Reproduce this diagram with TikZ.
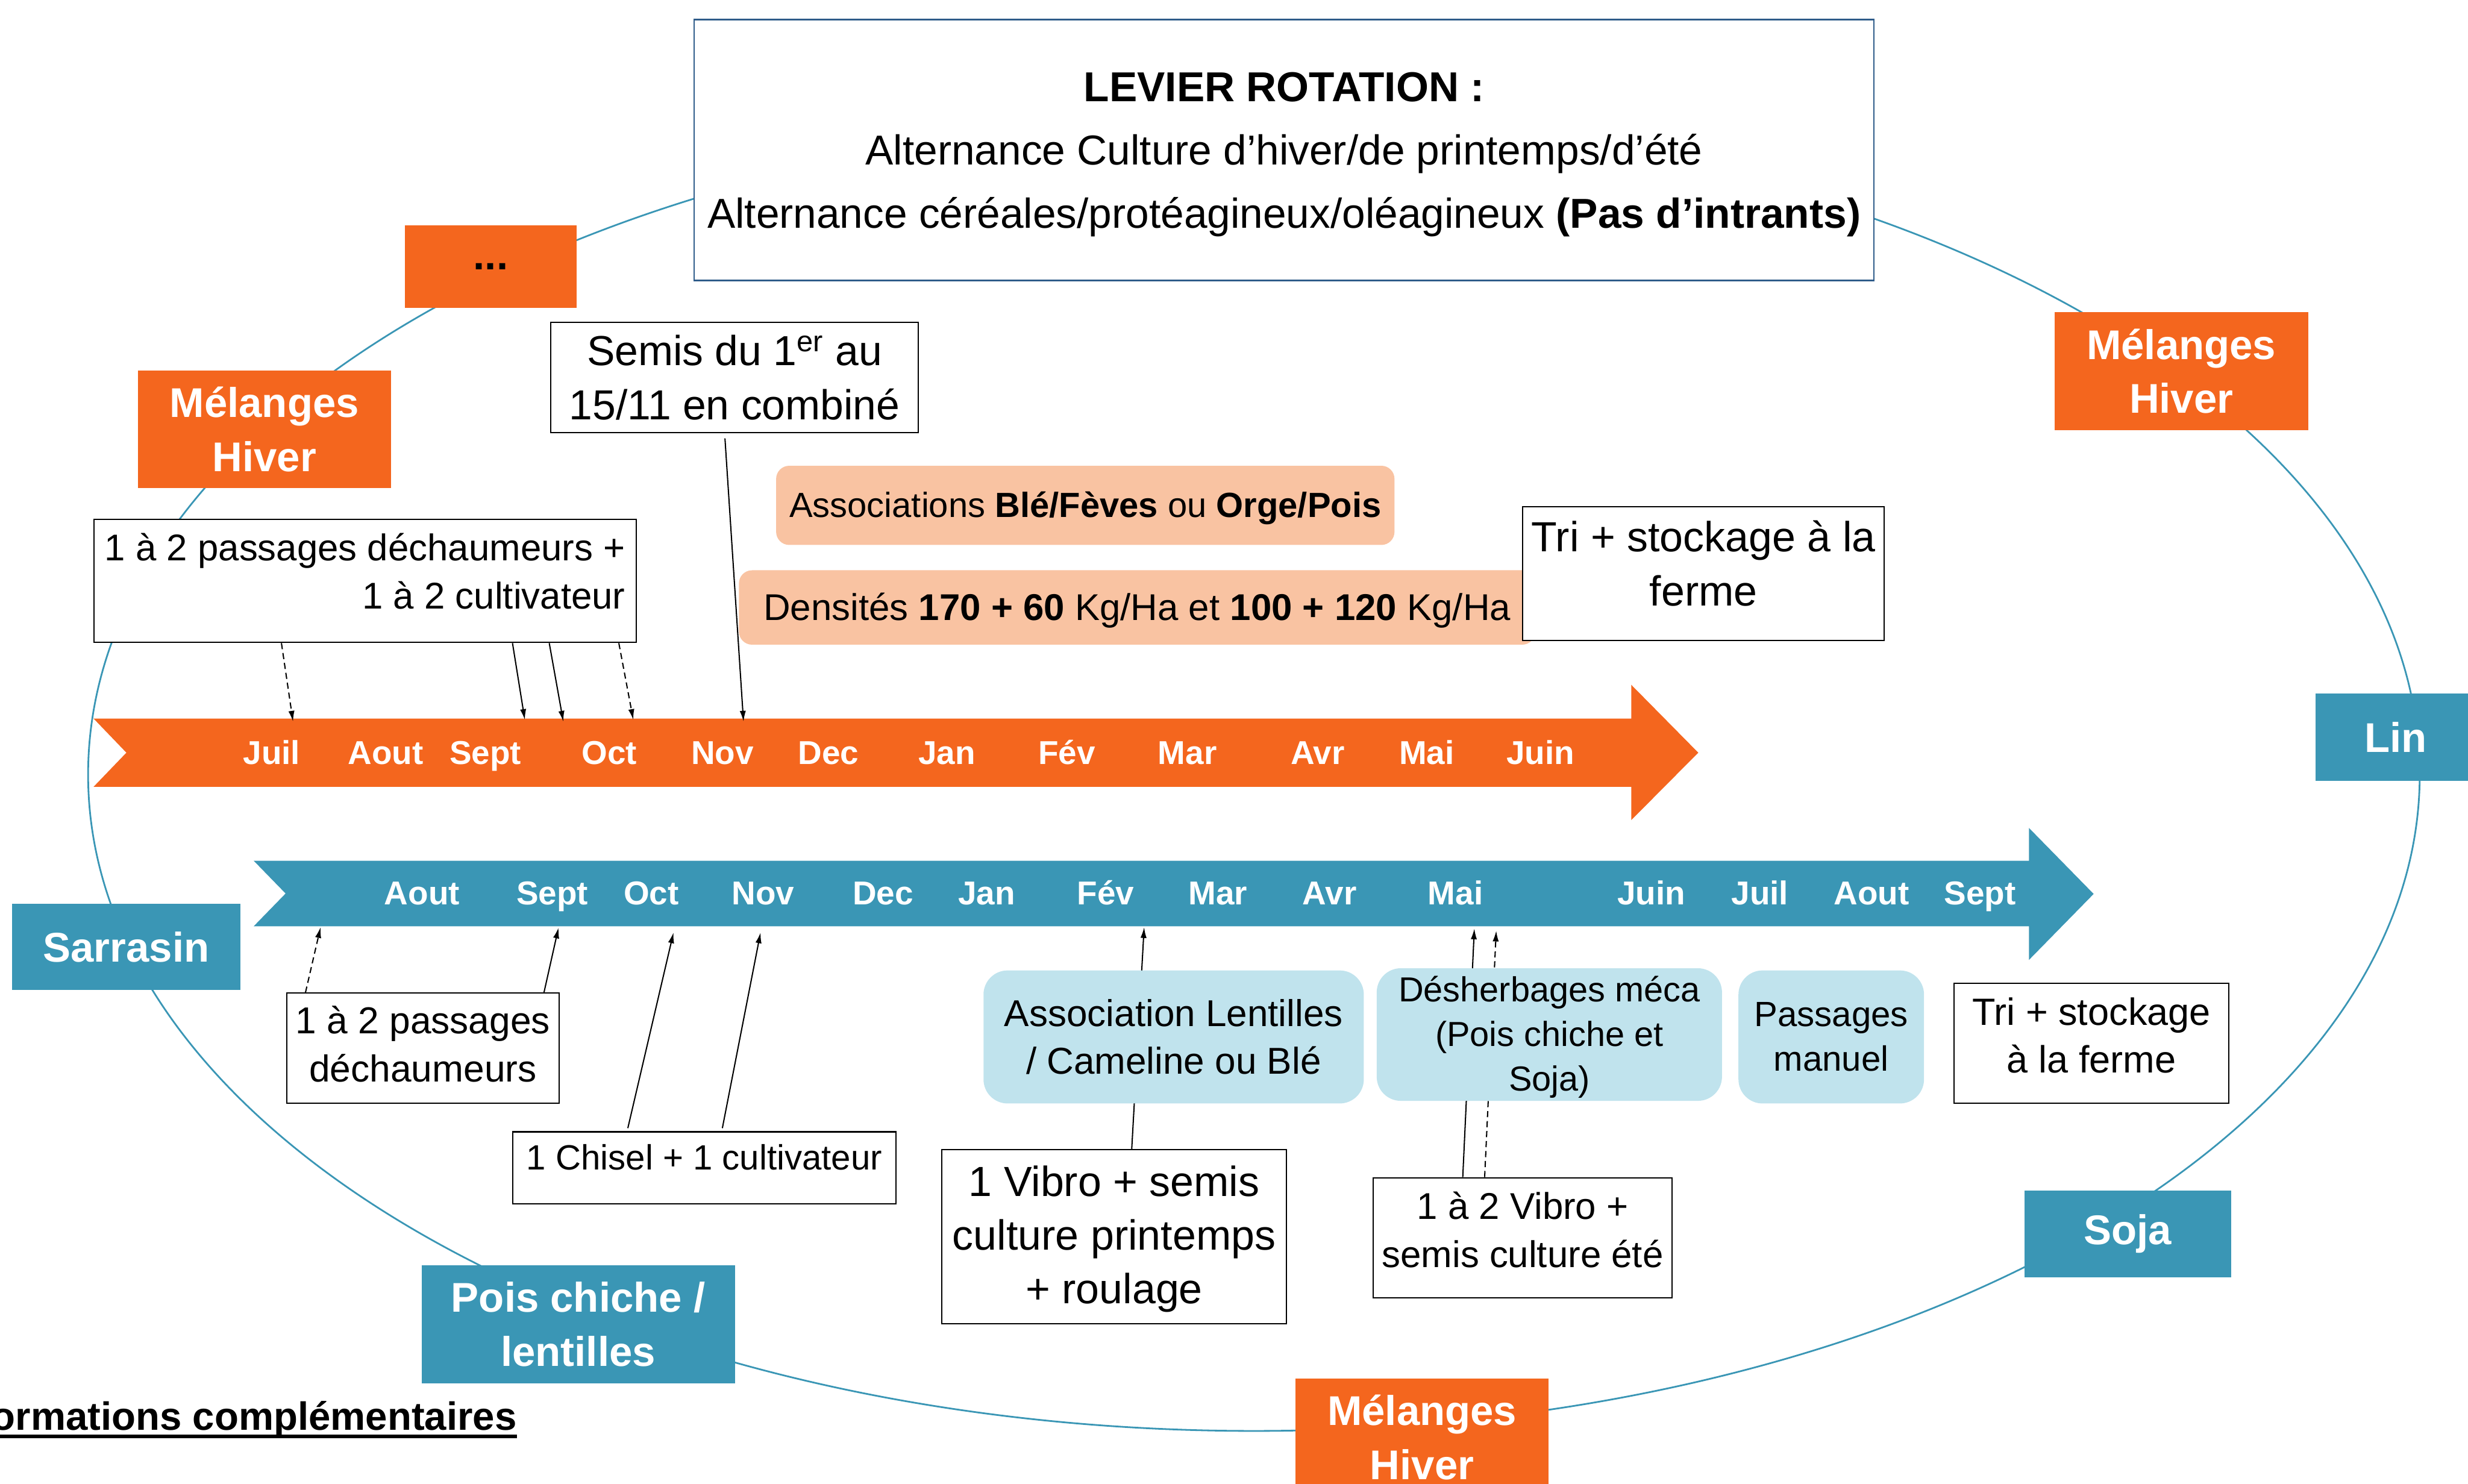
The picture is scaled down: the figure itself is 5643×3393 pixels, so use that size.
\documentclass[tikz,border=0pt]{standalone}
\usepackage{fontspec}
\setmainfont{Liberation Sans}
\usetikzlibrary{arrows.meta}
\definecolor{orng}{HTML}{F4661E}
\definecolor{cyc}{HTML}{3A96B5}
\definecolor{peach}{HTML}{F9C3A2}
\definecolor{lblue}{HTML}{C0E3ED}
\definecolor{tborder}{HTML}{2F5C8A}
\begin{document}
\begin{tikzpicture}[x=0.01cm, y=-0.01cm,
  boxw/.style={draw=black, line width=0.8pt, fill=white, inner sep=0pt, align=center},
  titlebox/.style={draw=tborder, line width=1pt, fill=white, inner sep=0pt, align=center},
  crop/.style={inner sep=0pt, text=white, font=\bfseries\fontsize{27pt}{35pt}\selectfont, align=center},
  orbox/.style={crop, fill=orng},
  tlbox/.style={crop, fill=cyc},
  month/.style={text=white, font=\bfseries\fontsize{21.5pt}{26pt}\selectfont, anchor=base, inner sep=0pt},
  conn/.style={line width=0.8pt, -{Latex[length=7pt,width=4pt]}},
  dconn/.style={conn, dash pattern=on 4pt off 2.5pt},
  peachbox/.style={fill=peach, rounded corners=0.3cm, inner sep=0pt, align=center},
  lbbox/.style={fill=lblue, rounded corners=0.55cm, inner sep=0pt, align=center}]
\useasboundingbox (0,0) rectangle (5643,3393);

% rotation cycle
\coordinate (ctr) at (2867,1771);
\draw[cyc, line width=1.1pt] (ctr) ellipse [x radius=26.64cm, y radius=15cm];

% timelines
\fill[orng] (214,1643) -- (3730,1643) -- (3730,1566) -- (3883,1721) -- (3730,1875) -- (3730,1799) -- (214,1799) -- (289,1721) -- cycle;
\fill[cyc] (580,1968) -- (4639,1968) -- (4639,1893) -- (4787,2044) -- (4639,2195) -- (4639,2118) -- (580,2118) -- (653,2043) -- cycle;

\foreach \m/\x [count=\i] in {Juil/621, Aout/882, Sept/1110, Oct/1393, Nov/1652, Dec/1894, Jan/2165, Fév/2439, Mar/2715, Avr/3013, Mai/3262, Juin/3522}
  \node[month] (o\i) at (\x,1747) {\m};
\foreach \m/\x [count=\i] in {Aout/965, Sept/1263, Oct/1489, Nov/1745, Dec/2019, Jan/2256, Fév/2528, Mar/2785, Avr/3040, Mai/3328, Juin/3776, Juil/4024, Aout/4279, Sept/4527}
  \node[month] (t\i) at (\x,2069) {\m};

% title
\node[titlebox, minimum width=26.96cm, minimum height=5.96cm, font=\fontsize{27.2pt}{41.3pt}\selectfont] (title) at (2936,343)
  {\rule{0pt}{24.9pt}\textbf{LEVIER ROTATION :}\\Alternance Culture d’hiver/de printemps/d’été\\Alternance céréales/protéagineux/oléagineux \textbf{(Pas d’intrants)}};

% crops
\node[orbox, text=black, minimum width=3.92cm, minimum height=1.89cm] (dots) at (1122,609.5) {...};
\node[orbox, minimum width=5.79cm, minimum height=2.69cm] (melL) at (604.5,981.5) {Mélanges\\Hiver};
\node[orbox, minimum width=5.79cm, minimum height=2.69cm] (melR) at (4987.5,848.5) {Mélanges\\Hiver};
\node[orbox, minimum width=5.79cm, minimum height=2.69cm] (melB) at (3251.5,3286.5) {Mélanges\\Hiver};
\node[tlbox, minimum width=3.66cm, minimum height=2cm] (lin) at (5478,1686) {Lin};
\node[tlbox, minimum width=5.21cm, minimum height=1.97cm] (sarrasin) at (288.5,2165.5) {Sarrasin};
\node[tlbox, minimum width=4.72cm, minimum height=1.99cm] (soja) at (4865,2821.5) {Soja};
\node[tlbox, minimum width=7.16cm, minimum height=2.70cm] (pois) at (1322,3028) {Pois chiche /\\lentilles};

% winter crop notes
\node[peachbox, minimum width=14.13cm, minimum height=1.81cm, font=\fontsize{22.7pt}{26pt}\selectfont] (assoc) at (2481.5,1155.5)
  {\rule{0pt}{20.6pt}Associations \textbf{Blé/Fèves} ou \textbf{Orge/Pois}};
\node[peachbox, minimum width=18.20cm, minimum height=1.70cm, font=\fontsize{24.2pt}{28pt}\selectfont] (dens) at (2600,1389)
  {\rule{0pt}{21.7pt}Densités \textbf{170 + 60} Kg/Ha et \textbf{100 + 120} Kg/Ha};
\node[boxw, minimum width=8.26cm, minimum height=3.05cm, font=\fontsize{27.4pt}{35.3pt}\selectfont] (triT) at (3895,1311.5)
  {Tri + stockage à la\\ferme\rule[-13.4pt]{0pt}{13.4pt}};
\node[boxw, align=right, minimum width=12.39cm, minimum height=2.81cm, font=\fontsize{24.2pt}{31.3pt}\selectfont] (tl) at (834.5,1328.5)
  {1 à 2 passages déchaumeurs +\\1 à 2 cultivateur\rule[-13.1pt]{0pt}{13.1pt}};
\node[boxw, minimum width=8.39cm, minimum height=2.52cm, font=\fontsize{27.3pt}{35pt}\selectfont] (semis) at (1679.5,863)
  {Semis du 1\textsuperscript{er} au\\15/11 en combiné};

% summary crop notes
\node[boxw, minimum width=6.22cm, minimum height=2.52cm, font=\fontsize{24.4pt}{31.3pt}\selectfont] (bpass) at (967,2397)
  {1 à 2 passages\\déchaumeurs\rule[-5.7pt]{0pt}{5.7pt}};
\node[boxw, minimum width=8.75cm, minimum height=1.64cm, font=\fontsize{22.8pt}{27pt}\selectfont] (chisel) at (1610.5,2670)
  {1 Chisel + 1 cultivateur\rule[-14.2pt]{0pt}{14.2pt}};
\node[boxw, minimum width=7.87cm, minimum height=3.98cm, font=\fontsize{27.4pt}{35pt}\selectfont] (vibroP) at (2547.5,2828)
  {\rule{0pt}{22.8pt}1 Vibro + semis\\culture printemps\\+ roulage};
\node[boxw, minimum width=6.83cm, minimum height=2.75cm, font=\fontsize{24.2pt}{31.6pt}\selectfont] (vibroE) at (3481.5,2830.5)
  {\rule{0pt}{20.5pt}1 à 2 Vibro +\\semis culture été\rule[-13.4pt]{0pt}{13.4pt}};
\node[boxw, minimum width=6.28cm, minimum height=2.75cm, font=\fontsize{24.7pt}{31pt}\selectfont] (triB) at (4782,2385.5)
  {\rule{0pt}{20.5pt}Tri + stockage\\à la ferme\rule[-13pt]{0pt}{13pt}};
\node[lbbox, minimum width=4.24cm, minimum height=3.04cm, font=\fontsize{22.8pt}{29pt}\selectfont] (passM) at (4187,2371)
  {Passages\\manuel};

% connector ends on the timelines
\coordinate (e1) at (670,1650);
\coordinate (e2) at (1200,1646);
\coordinate (e3) at (1288,1650);
\coordinate (e4) at (1448,1646);
\coordinate (e5) at (1700,1650);
\coordinate (f1) at (733,2120);
\coordinate (f2) at (1277,2121);
\coordinate (f3) at (1540,2132);
\coordinate (f4) at (1739,2132);
\coordinate (f5) at (2616,2120);
\coordinate (f6) at (3371,2123);
\coordinate (f7) at (3421,2128);

\draw[dconn] ([xshift=4.30cm]tl.south west) -- (e1);
\draw[conn]  ([xshift=9.58cm]tl.south west) -- (e2);
\draw[conn]  ([xshift=10.42cm]tl.south west) -- (e3);
\draw[dconn] ([xshift=12.01cm]tl.south west) -- (e4);
\draw[conn]  ([xshift=3.99cm,yshift=-0.12cm]semis.south west) -- (e5);
\draw[dconn] ([xshift=0.44cm]bpass.north west) -- (f1);
\draw[conn]  ([xshift=5.89cm]bpass.north west) -- (f2);
\draw[conn]  ([xshift=2.64cm,yshift=0.07cm]chisel.north west) -- (f3);
\draw[conn]  ([xshift=4.80cm,yshift=0.07cm]chisel.north west) -- (f4);
\draw[conn]  ([xshift=4.35cm]vibroP.north west) -- (f5);
\draw[conn]  ([xshift=2.06cm]vibroE.north west) -- (f6);
\draw[dconn] ([xshift=2.56cm]vibroE.north west) -- (f7);

% boxes drawn over the connectors
\node[lbbox, minimum width=8.69cm, minimum height=3.04cm, font=\fontsize{24.3pt}{31pt}\selectfont] (assocL) at (2683.5,2371)
  {Association Lentilles\\/ Cameline ou Blé};
\node[lbbox, minimum width=7.89cm, minimum height=3.03cm, font=\fontsize{22.6pt}{28.9pt}\selectfont] (desh) at (3542.5,2365.5)
  {\rule{0pt}{19.9pt}Désherbages méca\\(Pois chiche et\\Soja)};

% footer
\node[anchor=base east, inner sep=0pt, font=\bfseries\fontsize{25.6pt}{30pt}\selectfont] (info) at (1182,3270) {ormations complémentaires};
\draw[line width=2.5pt] ([yshift=-0.14cm]info.base west) -- ([yshift=-0.14cm]info.base east);
\end{tikzpicture}
\end{document}
